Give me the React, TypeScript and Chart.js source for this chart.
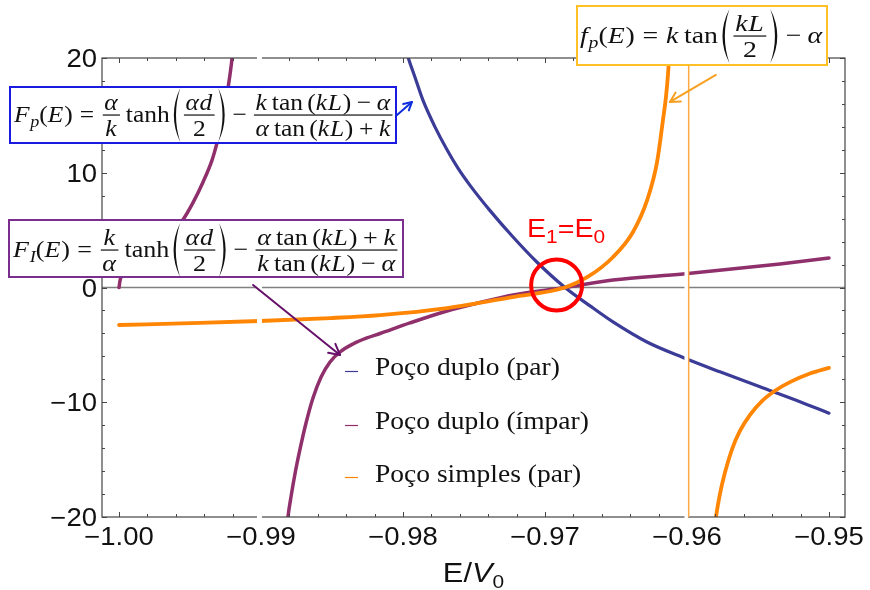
import React, { useEffect, useRef } from "react";
import { Chart, registerables } from "chart.js";

Chart.register(...registerables);

// ---------------- data ----------------
// Poço duplo (par) : F_p(E)
const blueE = [-0.98007, -0.97965, -0.97915, -0.97859, -0.97775, -0.9769, -0.97613, -0.97528, -0.97387, -0.97225, -0.97056, -0.96859, -0.96683, -0.96521, -0.96282, -0.96028, -0.95768, -0.95486, -0.95204, -0.95];
const blueF = [22.0, 20.1, 18.3, 16.3, 14.0, 12.0, 10.4, 8.9, 6.7, 4.4, 2.2, 0.0, -1.6, -3.0, -4.75, -6.1, -7.35, -8.65, -9.95, -10.95];

// Poço duplo (ímpar) : F_I(E), two branches
const purpleLeftE = [-1.0, -0.99993, -0.99979, -0.99951, -0.99901, -0.99817, -0.99711, -0.99627, -0.99556, -0.99479, -0.99408, -0.99345, -0.9931, -0.99289, -0.99268, -0.99246, -0.99232, -0.99218, -0.99204, -0.99194];
const purpleLeftF = [0.0, 0.6, 1.1, 1.7, 2.4, 3.2, 4.1, 4.9, 5.8, 7.4, 9.2, 11.1, 12.6, 13.7, 14.95, 16.25, 17.4, 18.6, 20.0, 21.6];
const purpleRightE = [-0.98824, -0.9881, -0.98789, -0.98761, -0.98725, -0.98683, -0.98634, -0.98577, -0.98514, -0.98444, -0.98352, -0.98254, -0.98162, -0.97951, -0.9769, -0.97458, -0.97225, -0.96859, -0.96521, -0.96028, -0.95345, -0.95];
const purpleRightF = [-22.0, -20.0, -18.26, -16.25, -14.07, -11.81, -9.63, -7.8, -6.49, -5.62, -4.92, -4.4, -4.01, -3.09, -2.05, -1.31, -0.65, 0.0, 0.65, 1.18, 2.05, 2.57];

// Poço simples (par) : f_p(E), two branches
const orangeLeftE = [-1.0, -0.9943, -0.9901, -0.9851, -0.9816, -0.9769, -0.9723, -0.9686, -0.967, -0.9652, -0.9638, -0.9628, -0.96211, -0.96169, -0.96148, -0.96134, -0.9612];
const orangeLeftF = [-3.27, -3.09, -2.92, -2.66, -2.4, -1.79, -0.83, 0.0, 0.92, 2.66, 4.84, 7.63, 10.9, 14.6, 16.6, 18.5, 21.1];
const orangeRightE = [-0.95817, -0.95796, -0.95768, -0.95732, -0.95683, -0.95627, -0.95556, -0.95472, -0.9538, -0.95275, -0.95134, -0.95];
const orangeRightF = [-22.0, -20.0, -18.0, -16.1, -14.1, -12.5, -11.1, -9.9, -9.0, -8.25, -7.5, -7.0];

// axes
const X_MIN = -1.0012;
const X_MAX = -0.94887;
const Y_MIN = -20;
const Y_MAX = 20;
const xMajorTicks = [-1.0, -0.99, -0.98, -0.97, -0.96, -0.95];
const xTickLabels = ["\u22121.00", "\u22120.99", "\u22120.98", "\u22120.97", "\u22120.96", "\u22120.95"];
const yMajorTicks = [-20, -10, 0, 10, 20];
const yTickLabels = ["\u221220", "\u221210", "0", "10", "20"];
const xMinorCount = 25; // every 0.002 from -1.00 to -0.95
const yMinorCount = 20; // every 2 from -20 to 20

const seriesLabels = ["Poço duplo (par)", "Poço duplo (ímpar)", "Poço simples (par)"];

// vertical asymptote of f_p and white gaps (in E units)
const asymptoteE = -0.95988;
const gapE = [-0.99011, -0.96005];

// annotation anchors (E, F)
const circleCenter = [-0.96918, 0.22];
const blueArrow = [[-0.98042, 15.03], [-0.97937, 16.17]];
const orangeArrow = [[-0.95796, 18.52], [-0.9612, 16.17]];
const purpleArrow = [[-0.99056, 0.22], [-0.98444, -5.88]];

// ---------------- styling ----------------
const BLUE = "#3B3B98";
const PURPLE = "#8F2F6B";
const ORANGE = "#FF8505";
const SANS = '"Liberation Sans", Arial, sans-serif';
const SERIF = '"Liberation Serif", "Times New Roman", serif';
const SX = 1.1;

function stext(ctx, s, x, y, font, align, sx = SX) {
  ctx.font = font;
  const w = ctx.measureText(s).width * sx;
  const left = align === "left" ? x : align === "center" ? x - w / 2 : x - w;
  ctx.save();
  ctx.translate(left, y);
  ctx.scale(sx, 1);
  ctx.textAlign = "left";
  ctx.textBaseline = "alphabetic";
  ctx.fillText(s, 0, 0);
  ctx.restore();
  return w;
}

function arrow(ctx, x1, y1, x2, y2, color, width, head) {
  ctx.save();
  ctx.strokeStyle = color;
  ctx.lineWidth = width;
  ctx.lineCap = "round";
  ctx.lineJoin = "round";
  ctx.beginPath();
  ctx.moveTo(x1, y1);
  ctx.lineTo(x2, y2);
  ctx.stroke();
  const a = Math.atan2(y2 - y1, x2 - x1);
  ctx.beginPath();
  ctx.moveTo(x2 - head * Math.cos(a - 0.5), y2 - head * Math.sin(a - 0.5));
  ctx.lineTo(x2, y2);
  ctx.lineTo(x2 - head * Math.cos(a + 0.5), y2 - head * Math.sin(a + 0.5));
  ctx.stroke();
  ctx.restore();
}

// ---- tiny formula typesetter ----
const I = (s) => ({ k: "i", s });
const R = (s) => ({ k: "r", s });
const SP = (w) => ({ k: "sp", w });
const SUB = (s) => ({ k: "sub", s });
const FR = (n, d) => ({ k: "frac", n, d });
const LP = { k: "lp" };
const RP = { k: "rp" };

function fontFor(k, size) {
  if (k === "i") return `italic ${size}px ${SERIF}`;
  if (k === "sub") return `italic ${Math.round(size * 0.7)}px ${SERIF}`;
  return `${size}px ${SERIF}`;
}

function measure(ctx, toks, size) {
  let w = 0;
  for (const t of toks) {
    if (t.k === "i" || t.k === "r" || t.k === "sub") {
      ctx.font = fontFor(t.k, size);
      w += ctx.measureText(t.s).width + (t.k === "i" ? size * 0.03 : 0);
    } else if (t.k === "sp") w += t.w * size;
    else if (t.k === "frac") w += Math.max(measure(ctx, t.n, size), measure(ctx, t.d, size)) + size * 0.24;
    else w += size * 0.42;
  }
  return w;
}

function paren(ctx, x, axis, size, left) {
  const pw = size * 0.42;
  const h = size * 1.13;
  const t = size * 0.085;
  const xe = left ? x + pw * 0.8 : x + pw * 0.2;
  const xm = left ? x + pw * 0.2 : x + pw * 0.8;
  const xi = left ? xm + t : xm - t;
  ctx.beginPath();
  ctx.moveTo(xe, axis - h);
  ctx.quadraticCurveTo(2 * xm - xe, axis, xe, axis + h);
  ctx.quadraticCurveTo(2 * xi - xe, axis, xe, axis - h);
  ctx.closePath();
  ctx.fill();
}

function drawToks(ctx, toks, x, base, size) {
  const axis = base - size * 0.29;
  for (const t of toks) {
    if (t.k === "i" || t.k === "r") {
      ctx.font = fontFor(t.k, size);
      ctx.fillText(t.s, x, base);
      x += ctx.measureText(t.s).width + (t.k === "i" ? size * 0.03 : 0);
    } else if (t.k === "sub") {
      ctx.font = fontFor(t.k, size);
      ctx.fillText(t.s, x, base + size * 0.22);
      x += ctx.measureText(t.s).width;
    } else if (t.k === "sp") {
      x += t.w * size;
    } else if (t.k === "frac") {
      const nw = measure(ctx, t.n, size);
      const dw = measure(ctx, t.d, size);
      const W = Math.max(nw, dw) + size * 0.24;
      drawToks(ctx, t.n, x + (W - nw) / 2, axis - size * 0.22, size);
      drawToks(ctx, t.d, x + (W - dw) / 2, axis + size * 0.86, size);
      ctx.fillRect(x + size * 0.06, axis - 0.6, W - size * 0.12, 1.2);
      x += W;
    } else {
      paren(ctx, x, axis, size, t.k === "lp");
      x += size * 0.42;
    }
  }
}

function drawFormula(ctx, toks, x0, x1, base, size) {
  const nat = measure(ctx, toks, size);
  const sx = (x1 - x0) / nat;
  ctx.save();
  ctx.fillStyle = "#111";
  ctx.textAlign = "left";
  ctx.textBaseline = "alphabetic";
  ctx.translate(x0, 0);
  ctx.scale(sx, 1);
  drawToks(ctx, toks, 0, base, size);
  ctx.restore();
}

const tanKL = [R("tan"), SP(0.17), R("("), I("k"), I("L"), R(")")];
const numMinus = [I("k"), SP(0.17), ...tanKL, SP(0.22), R("\u2212"), SP(0.22), I("α")];
const denPlus = [I("α"), SP(0.17), ...tanKL, SP(0.22), R("+"), SP(0.22), I("k")];
const halfAD = FR([I("α"), I("d")], [R("2")]);

const formulaFp = [I("F"), SUB("p"), R("("), I("E"), R(")"), SP(0.28), R("="), SP(0.28), FR([I("α")], [I("k")]), SP(0.17), R("tanh"), SP(0.08), LP, halfAD, RP, SP(0.22), R("\u2212"), SP(0.22), FR(numMinus, denPlus)];
const formulaFI = [I("F"), SUB("I"), R("("), I("E"), R(")"), SP(0.28), R("="), SP(0.28), FR([I("k")], [I("α")]), SP(0.17), R("tanh"), SP(0.08), LP, halfAD, RP, SP(0.22), R("\u2212"), SP(0.22), FR(denPlus, numMinus)];
const formulafp = [I("f"), SUB("p"), R("("), I("E"), R(")"), SP(0.28), R("="), SP(0.28), I("k"), SP(0.17), R("tan"), SP(0.08), LP, FR([I("k"), I("L")], [R("2")]), RP, SP(0.22), R("\u2212"), SP(0.22), I("α")];

const overlay = {
  id: "overlay",
  beforeDatasetsDraw(chart) {
    const ctx = chart.ctx;
    const { left, right } = chart.chartArea;
    const y0 = chart.scales.y.getPixelForValue(0);
    ctx.save();
    ctx.strokeStyle = "#808080";
    ctx.lineWidth = 1.4;
    ctx.beginPath();
    ctx.moveTo(left, y0);
    ctx.lineTo(right, y0);
    ctx.stroke();
    ctx.restore();
  },
  afterDatasetsDraw(chart) {
    const ctx = chart.ctx;
    const xs = chart.scales.x;
    const ys = chart.scales.y;
    const { left, right, top, bottom } = chart.chartArea;
    const px = (v) => xs.getPixelForValue(v);
    const py = (v) => ys.getPixelForValue(v);

    // frame and inward ticks
    ctx.save();
    ctx.strokeStyle = "#454545";
    ctx.lineWidth = 1.2;
    ctx.strokeRect(left, top, right - left, bottom - top);
    ctx.lineWidth = 1;
    ctx.beginPath();
    for (let i = 0; i <= xMinorCount; i++) {
      const v = -1 + (i * 0.05) / xMinorCount;
      const x = Math.round(px(v)) + 0.5;
      const len = i % 5 === 0 ? 5 : 3;
      ctx.moveTo(x, bottom);
      ctx.lineTo(x, bottom - len);
      ctx.moveTo(x, top);
      ctx.lineTo(x, top + len);
    }
    for (let i = 0; i <= yMinorCount; i++) {
      const v = Y_MIN + (i * (Y_MAX - Y_MIN)) / yMinorCount;
      const y = Math.round(py(v)) + 0.5;
      const len = i % 5 === 0 ? 5 : 3;
      ctx.moveTo(left, y);
      ctx.lineTo(left + len, y);
      ctx.moveTo(right, y);
      ctx.lineTo(right - len, y);
    }
    ctx.stroke();
    ctx.restore();

    // white gaps
    ctx.save();
    ctx.fillStyle = "#ffffff";
    ctx.fillRect(px(gapE[0]) - 2.5, top - 2, 5, bottom - top + 4);
    ctx.fillRect(px(gapE[1]) - 1.8, top - 2, 3.6, bottom - top + 4);
    // asymptote line
    ctx.strokeStyle = "#FFA940";
    ctx.lineWidth = 1.5;
    ctx.beginPath();
    ctx.moveTo(px(asymptoteE), top);
    ctx.lineTo(px(asymptoteE), bottom);
    ctx.stroke();
    ctx.restore();

    // tick labels
    ctx.save();
    ctx.fillStyle = "#111";
    xMajorTicks.forEach((v, i) => stext(ctx, xTickLabels[i], px(v), 545, `25px ${SANS}`, "center"));
    yMajorTicks.forEach((v, i) => stext(ctx, yTickLabels[i], 97, py(v) + 9, `25px ${SANS}`, "right"));
    // axis title E/V0
    ctx.font = `28px ${SANS}`;
    const w1 = ctx.measureText("E/").width * SX;
    ctx.font = `italic 28px ${SANS}`;
    const w2 = ctx.measureText("V").width * SX;
    ctx.font = `19px ${SANS}`;
    const w3 = ctx.measureText("0").width * SX;
    let tx = (left + right) / 2 - (w1 + w2 + w3) / 2;
    tx += stext(ctx, "E/", tx, 582, `28px ${SANS}`, "left");
    tx += stext(ctx, "V", tx, 582, `italic 28px ${SANS}`, "left");
    stext(ctx, "0", tx, 588, `19px ${SANS}`, "left");
    ctx.restore();

    // legend
    const legColors = [BLUE, PURPLE, ORANGE];
    const legBase = [375, 429, 482];
    const legSw = [371.5, 425.5, 477.5];
    ctx.save();
    legColors.forEach((c, i) => {
      ctx.strokeStyle = c;
      ctx.lineWidth = 1.2;
      ctx.beginPath();
      ctx.moveTo(345, legSw[i]);
      ctx.lineTo(358, legSw[i]);
      ctx.stroke();
      ctx.fillStyle = "#111";
      stext(ctx, seriesLabels[i], 375, legBase[i], `25px ${SERIF}`, "left");
    });
    ctx.restore();

    // formula boxes
    const box = (x, y, w, h, color) => {
      ctx.save();
      ctx.fillStyle = "#ffffff";
      ctx.fillRect(x, y, w, h);
      ctx.strokeStyle = color;
      ctx.lineWidth = 2;
      ctx.strokeRect(x, y, w, h);
      ctx.restore();
    };
    box(10, 87, 386, 56, "#1A1AE0");
    drawFormula(ctx, formulaFp, 14, 394, 122, 24);
    box(577, 6, 250, 59, "#FFC125");
    drawFormula(ctx, formulafp, 580, 823, 43, 24);
    box(9, 220, 394, 57, "#7A2E8E");
    drawFormula(ctx, formulaFI, 13, 399, 257, 24);

    // arrows
    arrow(ctx, px(blueArrow[0][0]), py(blueArrow[0][1]), px(blueArrow[1][0]), py(blueArrow[1][1]), "#1030E0", 2, 9);
    arrow(ctx, px(orangeArrow[0][0]), py(orangeArrow[0][1]), px(orangeArrow[1][0]), py(orangeArrow[1][1]), "#F7A020", 2, 11);
    arrow(ctx, px(purpleArrow[0][0]), py(purpleArrow[0][1]), px(purpleArrow[1][0]), py(purpleArrow[1][1]), "#66106A", 2, 12);

    // red circle and label
    ctx.save();
    ctx.strokeStyle = "#FF0000";
    ctx.lineWidth = 4;
    ctx.beginPath();
    ctx.arc(px(circleCenter[0]), py(circleCenter[1]), 25.5, 0, Math.PI * 2);
    ctx.stroke();
    ctx.fillStyle = "#FF0000";
    let rx = 527;
    rx += stext(ctx, "E", rx, 237, `26px ${SANS}`, "left");
    rx += stext(ctx, "1", rx, 243, `19px ${SANS}`, "left");
    rx += stext(ctx, "=", rx, 237, `26px ${SANS}`, "left");
    rx += stext(ctx, "E", rx, 237, `26px ${SANS}`, "left");
    stext(ctx, "0", rx, 243, `19px ${SANS}`, "left");
    ctx.restore();
  },
};

const pts = (xs, ys) => xs.map((x, i) => ({ x, y: ys[i] }));

export default function App() {
  const ref = useRef(null);
  useEffect(() => {
    const line = (label, data, color, width, order) => ({
      label,
      data,
      borderColor: color,
      backgroundColor: color,
      borderWidth: width,
      pointRadius: 0,
      fill: false,
      cubicInterpolationMode: "monotone",
      borderCapStyle: "round",
      borderJoinStyle: "round",
      clip: 0,
      order,
    });
    const chart = new Chart(ref.current, {
      type: "line",
      data: {
        datasets: [
          line(seriesLabels[2], pts(orangeLeftE, orangeLeftF), ORANGE, 3.8, 0),
          line(seriesLabels[2], pts(orangeRightE, orangeRightF), ORANGE, 3.8, 0),
          line(seriesLabels[1], pts(purpleLeftE, purpleLeftF), PURPLE, 3.5, 1),
          line(seriesLabels[1], pts(purpleRightE, purpleRightF), PURPLE, 3.5, 1),
          line(seriesLabels[0], pts(blueE, blueF), BLUE, 3.2, 2),
        ],
      },
      options: {
        responsive: false,
        animation: false,
        devicePixelRatio: 1,
        layout: { padding: { left: 102, right: 25, top: 58, bottom: 73 } },
        scales: {
          x: { type: "linear", min: X_MIN, max: X_MAX, display: false },
          y: { type: "linear", min: Y_MIN, max: Y_MAX, display: false },
        },
        plugins: { legend: { display: false }, tooltip: { enabled: false } },
      },
      plugins: [overlay],
    });
    return () => chart.destroy();
  }, []);
  return (
    <div style={{ position: "fixed", left: 0, top: 0, width: 870, height: 590, background: "#ffffff" }}>
      <canvas ref={ref} width={870} height={590} style={{ display: "block", width: 870, height: 590 }} />
    </div>
  );
}
